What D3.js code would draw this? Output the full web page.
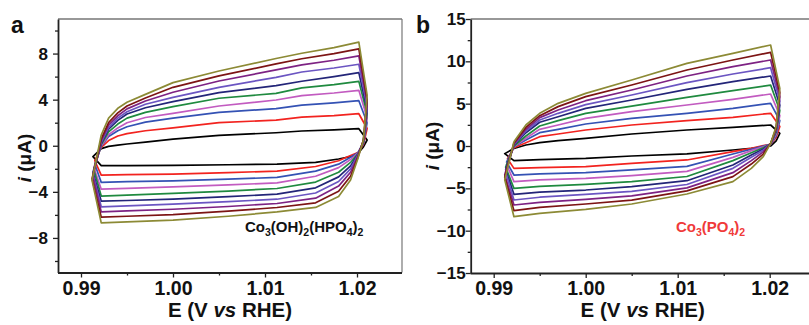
<!DOCTYPE html>
<html>
<head>
<meta charset="utf-8">
<script src="https://cdn.jsdelivr.net/npm/d3@7"></script>
<style>
  body { margin: 0; background: #fff; }
  text { font-family: "Liberation Sans", Arial, sans-serif; font-weight: bold; }
</style>
</head>
<body>
<svg id="chart" width="809" height="325"></svg>
<script>
// scan colours, innermost (slowest) to outermost (fastest)
const scanColors = ["#000000", "#f2231f", "#3452b4", "#c25bc0", "#1f8a3f",
  "#232578", "#6b55c2", "#7d2283", "#7c1414", "#8c8a35"];

const xTicks = [0.99, 1.0, 1.01, 1.02];
const xMinor = [0.995, 1.005, 1.015];

// ---- panel a : Co3(OH)2(HPO4)2 ----
const aYTicks = [8, 4, 0, -4, -8];
const aYMinor = [10, 6, 2, -2, -6, -10];
const aAnodicE = [0.9922, 0.9930, 0.9940, 0.9950, 0.9970, 1.0000, 1.0050, 1.0112, 1.0140, 1.0175, 1.0202];
const aAnodicI = [
  [-0.25, -0.05, 0.06, 0.15, 0.32, 0.58, 0.90, 1.13, 1.28, 1.38, 1.48],
  [-0.15, 0.45, 0.85, 1.05, 1.30, 1.55, 2.00, 2.23, 2.48, 2.61, 2.78],
  [-0.05, 0.80, 1.30, 1.65, 2.05, 2.40, 2.90, 3.22, 3.52, 3.72, 3.91],
  [0.00, 0.95, 1.55, 2.00, 2.45, 2.81, 3.45, 3.97, 4.35, 4.58, 4.81],
  [0.10, 1.20, 1.88, 2.40, 2.90, 3.39, 4.12, 4.55, 5.02, 5.30, 5.59],
  [0.20, 1.45, 2.20, 2.75, 3.30, 3.83, 4.61, 5.22, 5.60, 6.00, 6.35],
  [0.30, 1.60, 2.40, 2.95, 3.60, 4.20, 5.07, 5.94, 6.40, 6.75, 7.07],
  [0.45, 1.80, 2.60, 3.20, 3.88, 4.64, 5.62, 6.58, 7.02, 7.42, 7.80],
  [0.60, 2.00, 2.85, 3.45, 4.15, 5.07, 6.06, 7.10, 7.55, 8.00, 8.41],
  [0.93, 2.40, 3.25, 3.77, 4.46, 5.48, 6.49, 7.57, 8.03, 8.52, 8.99]
];
const aTurnE = [1.0211, 1.0207];
const aTurnI1 = [0.5, 1.5, 2.0, 2.4, 2.8, 3.1, 3.4, 3.7, 4.0, 4.4];
const aTurnI2 = [-0.1, 0.1, 0.2, 0.3, 0.3, 0.35, 0.4, 0.45, 0.5, 0.5];
const aCathodicE = [1.0201, 1.0193, 1.0180, 1.0155, 1.0113, 1.0060, 1.0000, 0.9950, 0.9922];
const aCathodicI = [
  [-0.66, -0.95, -1.15, -1.45, -1.59, -1.65, -1.71, -1.72, -1.73],
  [-0.60, -0.85, -1.30, -1.80, -2.20, -2.33, -2.46, -2.50, -2.55],
  [-0.60, -1.00, -1.60, -2.20, -2.75, -2.90, -3.04, -3.12, -3.18],
  [-0.65, -1.20, -1.90, -2.65, -3.22, -3.40, -3.57, -3.70, -3.77],
  [-0.70, -1.45, -2.30, -3.15, -3.71, -3.93, -4.14, -4.28, -4.37],
  [-0.75, -1.75, -2.70, -3.65, -4.20, -4.42, -4.64, -4.75, -4.81],
  [-0.80, -2.00, -3.10, -4.10, -4.64, -4.85, -5.07, -5.22, -5.30],
  [-0.90, -2.30, -3.50, -4.55, -5.01, -5.27, -5.51, -5.66, -5.74],
  [-1.00, -2.65, -3.95, -4.95, -5.36, -5.68, -5.97, -6.12, -6.20],
  [-1.10, -2.98, -4.40, -5.35, -5.74, -6.12, -6.46, -6.60, -6.69]
];
const aLeftE = [0.9913, 0.9915, 0.9915, 0.9914, 0.9914, 0.9913, 0.9913, 0.9913, 0.9912, 0.9912];
const aLeftI = [-0.95, -1.3, -1.6, -1.9, -2.1, -2.3, -2.5, -2.7, -2.85, -3.0];

// ---- panel b : Co3(PO4)2 ----
const bYTicks = [15, 10, 5, 0, -5, -10, -15];
const bYMinor = [12.5, 7.5, 2.5, -2.5, -7.5, -12.5];
const bAnodicE = [0.9922, 0.9935, 0.9950, 0.9970, 1.0000, 1.0050, 1.0110, 1.0160, 1.0201];
const bAnodicI = [
  [-0.30, 0.12, 0.39, 0.63, 0.91, 1.42, 1.89, 2.20, 2.48],
  [-0.20, 0.39, 1.10, 1.42, 1.89, 2.48, 2.99, 3.39, 3.86],
  [-0.10, 0.71, 1.57, 1.97, 2.60, 3.27, 3.86, 4.45, 5.04],
  [-0.05, 0.91, 1.97, 2.48, 3.27, 4.06, 4.84, 5.51, 6.14],
  [0.00, 1.18, 2.36, 2.99, 3.86, 4.72, 5.75, 6.54, 7.20],
  [0.10, 1.57, 2.80, 3.46, 4.45, 5.43, 6.69, 7.60, 8.27],
  [0.15, 1.77, 3.07, 3.86, 4.88, 6.02, 7.48, 8.50, 9.25],
  [0.25, 1.97, 3.35, 4.25, 5.35, 6.61, 8.27, 9.37, 10.16],
  [0.35, 2.20, 3.58, 4.65, 5.83, 7.20, 8.98, 10.16, 11.06],
  [0.51, 2.48, 3.86, 5.04, 6.22, 7.80, 9.76, 10.94, 11.93]
];
const bTurnE = [1.0211, 1.0207];
const bTurnI1 = [1.5, 2.3, 3.0, 3.6, 4.2, 4.8, 5.3, 5.8, 6.3, 6.8];
const bTurnI2 = [0.6, 1.0, 1.2, 1.4, 1.6, 1.8, 1.9, 2.0, 2.1, 2.3];
const bCathodicE = [1.0201, 1.0193, 1.0180, 1.0160, 1.0110, 1.0050, 1.0000, 0.9950, 0.9922];
const bCathodicI = [
  [0.00, -0.10, -0.28, -0.47, -0.94, -1.18, -1.46, -1.60, -1.73],
  [0.20, 0.05, -0.28, -0.67, -1.65, -2.05, -2.44, -2.55, -2.64],
  [0.20, 0.00, -0.39, -0.94, -2.40, -2.83, -3.15, -3.30, -3.43],
  [0.20, -0.10, -0.55, -1.34, -3.00, -3.50, -3.82, -4.00, -4.21],
  [0.25, -0.20, -0.79, -1.73, -3.60, -4.20, -4.53, -4.78, -5.00],
  [0.25, -0.35, -1.06, -2.24, -4.10, -4.80, -5.20, -5.45, -5.71],
  [0.25, -0.50, -1.34, -2.64, -4.55, -5.35, -5.71, -6.05, -6.38],
  [0.30, -0.70, -1.73, -3.15, -4.95, -5.90, -6.30, -6.65, -6.97],
  [0.30, -0.95, -2.13, -3.62, -5.30, -6.40, -6.85, -7.25, -7.64],
  [0.30, -1.26, -2.64, -4.21, -5.67, -6.85, -7.48, -7.95, -8.35]
];
const bLeftE = [0.9912, 0.9915, 0.9914, 0.9914, 0.9913, 0.9913, 0.9913, 0.9912, 0.9912, 0.9912];
const bLeftI = [-0.9, -1.5, -1.9, -2.2, -2.5, -2.8, -3.1, -3.4, -3.7, -4.0];

const svg = d3.select("#chart");

function drawPanel(p) {
  const x = d3.scaleLinear().domain([0.9875, 1.025]).range([p.left, p.left + 345]);
  const y = d3.scaleLinear().domain(p.yDomain).range([p.bottom, p.top]);
  const g = svg.append("g");

  // curves
  const line = d3.line().x(d => x(d[0])).y(d => y(d[1]));
  scanColors.forEach((c, n) => {
    const pts = p.anodicE.map((e, j) => [e, p.anodicI[n][j]])
      .concat([[p.turnE[0], p.turnI1[n]], [p.turnE[1], p.turnI2[n]]])
      .concat(p.cathodicE.map((e, j) => [e, p.cathodicI[n][j]]))
      .concat([[p.leftE[n], p.leftI[n]]]);
    pts.push(pts[0]);
    g.append("path").attr("d", line(pts))
      .attr("fill", "none").attr("stroke", c)
      .attr("stroke-width", 1.7).attr("stroke-linejoin", "round");
  });

  // frame
  g.append("line").attr("x1", p.left).attr("x2", p.frameRight)
    .attr("y1", p.top).attr("y2", p.top).attr("stroke", "#333").attr("stroke-width", 1.2);
  if (p.frameRight < 809) {
    g.append("line").attr("x1", p.frameRight).attr("x2", p.frameRight)
      .attr("y1", p.top).attr("y2", p.bottom).attr("stroke", "#777").attr("stroke-width", 1.2);
  }

  // x axis
  const xa = g.append("g").attr("transform", `translate(0,${p.bottom})`)
    .call(d3.axisBottom(x).tickValues(xTicks).tickSize(5).tickSizeOuter(0)
      .tickFormat(d3.format(".2f")));
  g.append("g").attr("transform", `translate(0,${p.bottom})`)
    .call(d3.axisBottom(x).tickValues(xMinor).tickSize(3).tickFormat(""))
    .select(".domain").remove();
  xa.select(".domain").attr("d", `M${p.left},0.5H${p.frameRight}`).attr("stroke", "#222").attr("stroke-width", 1.8);
  xa.selectAll(".tick text").attr("font-size", 19.5).attr("dy", 0).attr("y", 22).attr("fill", "#111");

  // y axis
  const ya = g.append("g").attr("transform", `translate(${p.left},0)`)
    .call(d3.axisLeft(y).tickValues(p.yTicks).tickSize(5).tickSizeOuter(0));
  g.append("g").attr("transform", `translate(${p.left},0)`)
    .call(d3.axisLeft(y).tickValues(p.yMinor).tickSize(3).tickFormat(""))
    .select(".domain").remove();
  ya.select(".domain").attr("stroke", "#222").attr("stroke-width", 1.8);
  ya.selectAll(".tick text").attr("font-size", 17).attr("x", -p.yLabelGap).attr("fill", "#111");
  g.selectAll(".tick line").attr("stroke", "#222").attr("stroke-width", 1.3);

  // titles
  g.append("text").attr("x", p.left + 172).attr("y", 317).attr("text-anchor", "middle")
    .attr("font-size", 20.5).attr("fill", "#111")
    .html('E (V <tspan font-style="italic">vs</tspan> RHE)');
  g.append("text")
    .attr("transform", `translate(${p.left - p.yTitleGap},${p.yTitleY}) rotate(-90)`)
    .attr("text-anchor", "middle").attr("font-size", 19).attr("fill", "#111")
    .html('<tspan font-style="italic">i</tspan> (μA)');
  g.append("text").attr("x", p.tagX).attr("y", 33).attr("font-size", 23).attr("fill", "#111").text(p.tag);

  // compound name with subscripts
  const t = g.append("text").attr("x", p.nameX).attr("y", 232).attr("font-size", 15).attr("fill", p.nameColor);
  let shifted = false;
  p.name.forEach(([s, sub]) => {
    t.append("tspan").attr("dy", shifted ? -4 : 0).text(s);
    t.append("tspan").attr("font-size", 10.5).attr("dy", 4).text(sub);
    shifted = true;
  });
}

drawPanel({
  left: 58, top: 19, bottom: 272.5, frameRight: 402, yDomain: [-11, 11],
  yTicks: aYTicks, yMinor: aYMinor, yLabelGap: 10, yTitleGap: 27, yTitleY: 158,
  anodicE: aAnodicE, anodicI: aAnodicI, turnE: aTurnE, turnI1: aTurnI1, turnI2: aTurnI2,
  cathodicE: aCathodicE, cathodicI: aCathodicI, leftE: aLeftE, leftI: aLeftI,
  tag: "a", tagX: 11, nameX: 245, nameColor: "#111",
  name: [["Co", "3"], ["(OH)", "2"], ["(HPO", "4"], [")", "2"]]
});
drawPanel({
  left: 470.7, top: 19, bottom: 273, frameRight: 815.7, yDomain: [-15, 15],
  yTicks: bYTicks, yMinor: bYMinor, yLabelGap: 5, yTitleGap: 32, yTitleY: 146,
  anodicE: bAnodicE, anodicI: bAnodicI, turnE: bTurnE, turnI1: bTurnI1, turnI2: bTurnI2,
  cathodicE: bCathodicE, cathodicI: bCathodicI, leftE: bLeftE, leftI: bLeftI,
  tag: "b", tagX: 416, nameX: 676, nameColor: "#f03a3a",
  name: [["Co", "3"], ["(PO", "4"], [")", "2"]]
});
</script>
</body>
</html>
